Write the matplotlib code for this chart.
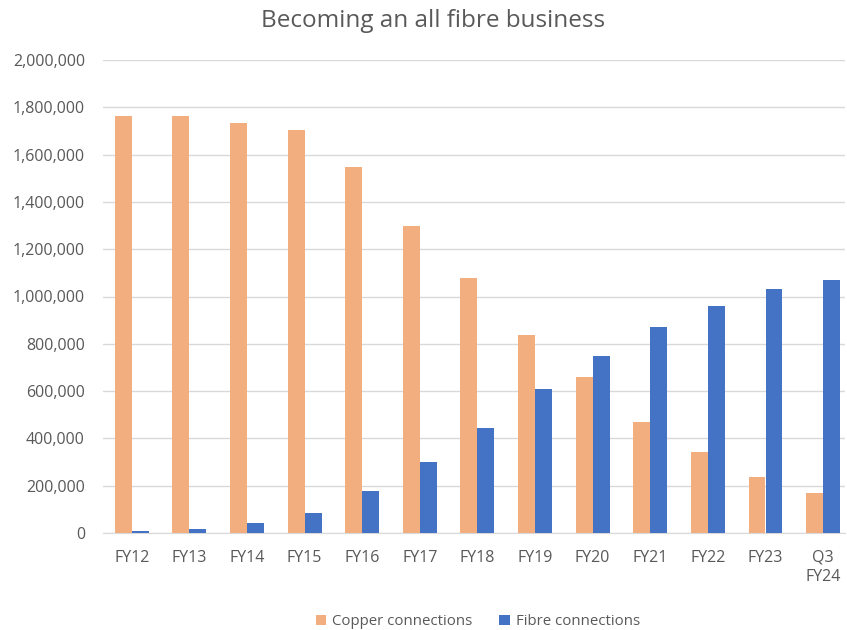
import matplotlib.pyplot as plt
import numpy as np
from matplotlib.ticker import FuncFormatter

years = ['FY12', 'FY13', 'FY14', 'FY15', 'FY16', 'FY17', 'FY18',
         'FY19', 'FY20', 'FY21', 'FY22', 'FY23', 'Q3\nFY24']
copper = [1765000, 1765000, 1735000, 1705000, 1549000, 1299000, 1077000,
          838000, 658000, 468000, 341000, 237000, 170000]
fibre = [8000, 17000, 42000, 85000, 178000, 301000, 442000,
         607000, 748000, 869000, 958000, 1031000, 1070000]

plt.rcParams['font.family'] = ['Open Sans', 'DejaVu Sans']
grey = '#595959'

fig = plt.figure(figsize=(8.47, 6.3), dpi=100)
ax = fig.add_axes([103/847, 1-533/630, 742/847, 473/630])

x = np.arange(len(years))
w = 0.295
ax.bar(x - w/2, copper, w, color='#F3AE7F', label='Copper connections', zorder=3)
ax.bar(x + w/2, fibre, w, color='#4472C4', label='Fibre connections', zorder=3)

ax.set_xlim(-0.5, 12.38)
ax.set_ylim(0, 2000000)
ax.set_yticks(np.arange(0, 2000001, 200000))
ax.yaxis.set_major_formatter(FuncFormatter(lambda v, p: f'{int(v):,}'))
ax.set_xticks(x)
ax.set_xticklabels(years, linespacing=1.3)
ax.grid(axis='y', color='#D9D9D9', linewidth=1, zorder=0)
for s in ['top', 'right', 'left']:
    ax.spines[s].set_visible(False)
ax.spines['bottom'].set_color('#D9D9D9')
ax.tick_params(axis='both', length=0, labelsize=11.5, colors=grey)
ax.tick_params(axis='y', pad=13)
ax.tick_params(axis='x', pad=12)

fig.text(0.511, 0.967, 'Becoming an all fibre business', ha='center', va='center',
         fontsize=17.5, color=grey)
fig.legend(loc='center', bbox_to_anchor=(0.564, 0.013), ncol=2, frameon=False,
           fontsize=10.8, labelcolor=grey, handlelength=0.7, handleheight=0.7,
           handletextpad=0.4, columnspacing=1.8)

fig.savefig('out.png', dpi=100)
